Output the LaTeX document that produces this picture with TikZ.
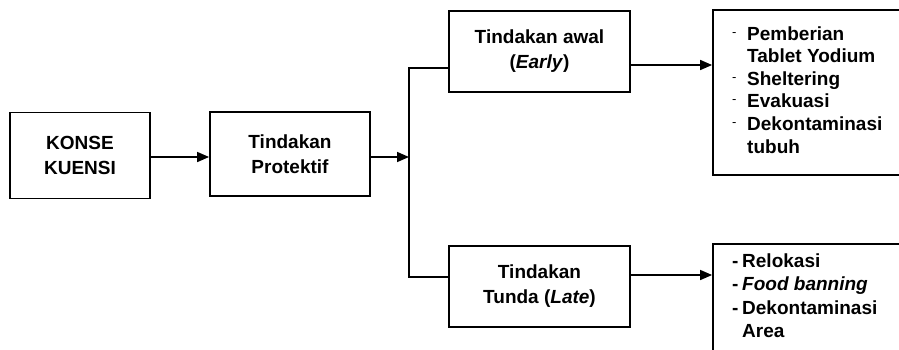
\documentclass[tikz,border=0pt]{standalone}
\usepackage{fontspec}
\setmainfont{Liberation Sans}
\usetikzlibrary{arrows.meta}
\begin{document}
\begin{tikzpicture}[x=1pt,y=-1pt,
  box/.style={draw=black, line width=1.8pt, rectangle, inner sep=0pt, align=center,
    font=\fontsize{19}{25}\selectfont\bfseries},
  frame/.style={draw=black, line width=1.8pt, rectangle, inner sep=0pt},
  conn/.style={line width=1.6pt},
  arr/.style={conn,-{Triangle[length=12pt,width=10pt]}},
  listtext/.style={anchor=base west, inner sep=0pt}
]
\useasboundingbox (0,0) rectangle (899,349);
\clip (0,0) rectangle (899,349);

\node[box, minimum width=140pt, minimum height=86pt] (kon) at (80,155.5) {KONSE\\KUENSI};
\node[box, minimum width=160pt, minimum height=84pt] (prot) at (290,154) {Tindakan\\Protektif};
\node[box, minimum width=181pt, minimum height=81pt] (awal) at (539.5,51.5) {Tindakan awal\\(\textit{Early})};
\node[box, minimum width=181pt, minimum height=81pt] (tunda) at (539.5,286.5) {Tindakan\\Tunda (\textit{Late})};
\node[frame, minimum width=217pt, minimum height=165pt] (early) at (821.5,92.5) {};
\node[frame, minimum width=217pt, minimum height=136pt] (late) at (821.5,312) {};

\node[listtext] (earlylist) at (732,40) {\fontsize{19}{22.6}\selectfont\bfseries
  \begin{tabular}[t]{@{}p{15pt}@{}l@{}}
  \raisebox{4pt}{\mdseries\fontsize{13}{13}\selectfont -} & Pemberian\\
   & Tablet Yodium\\
  \raisebox{4pt}{\mdseries\fontsize{13}{13}\selectfont -} & Sheltering\\
  \raisebox{4pt}{\mdseries\fontsize{13}{13}\selectfont -} & Evakuasi\\
  \raisebox{4pt}{\mdseries\fontsize{13}{13}\selectfont -} & Dekontaminasi\\
   & tubuh
  \end{tabular}};
\node[listtext] (latelist) at (732,267) {\fontsize{19}{23.5}\selectfont\bfseries
  \begin{tabular}[t]{@{}p{10pt}@{}l@{}}
  - & Relokasi\\
  - & \textit{Food banning}\\
  - & Dekontaminasi\\
   & Area
  \end{tabular}};

\coordinate (j) at (409,157);
\coordinate (ja) at (409,68);
\coordinate (jt) at (409,277);
\coordinate (ea) at (0,65);
\coordinate (la) at (0,275);

\draw[arr] (kon.east |- j) -- (j -| prot.west);
\draw[arr] (prot.east |- j) -- (j);
\draw[conn] (ja -| awal.west) -- (ja) -- (jt) -- (jt -| tunda.west);
\draw[arr] (awal.east |- ea) -- (ea -| early.west);
\draw[arr] (tunda.east |- la) -- (la -| late.west);
\end{tikzpicture}
\end{document}
